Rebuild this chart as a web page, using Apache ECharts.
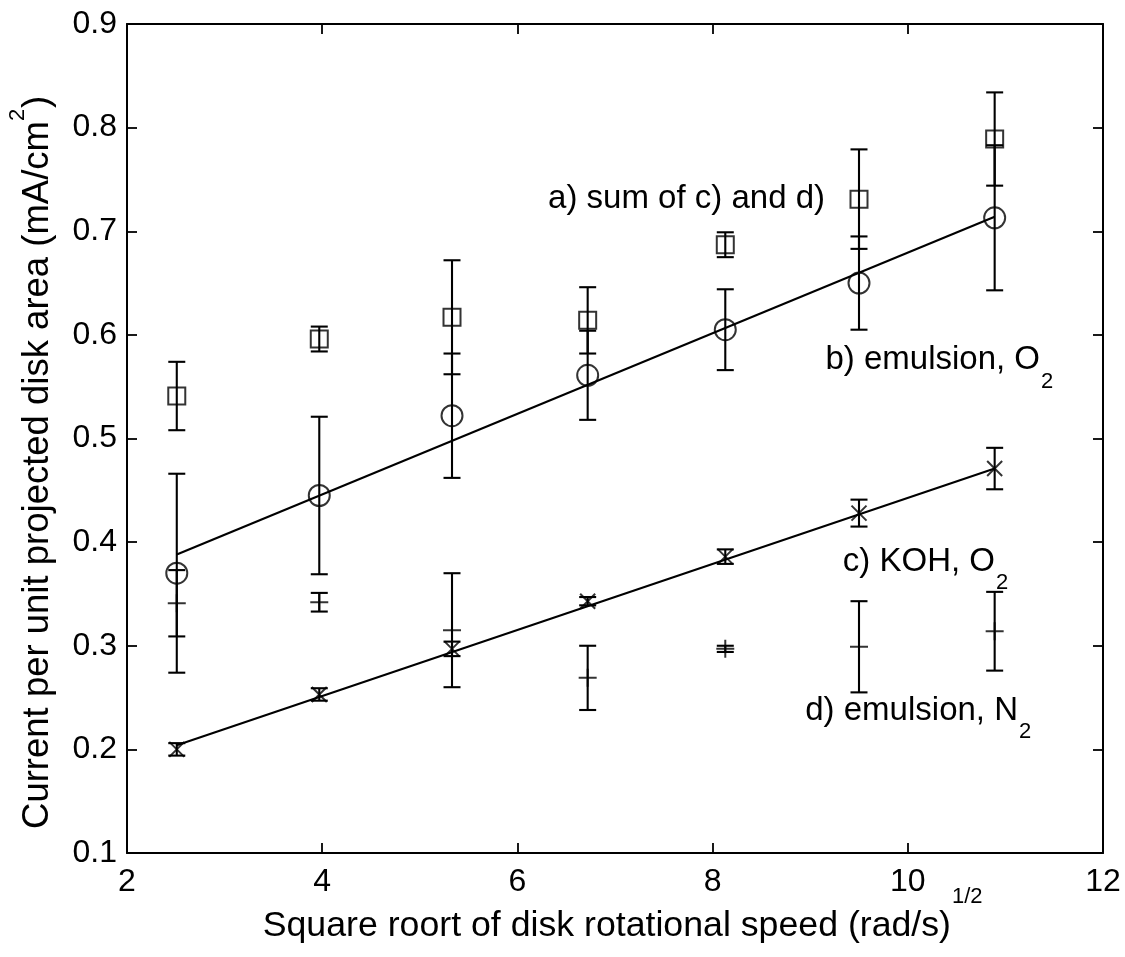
<!DOCTYPE html>
<html>
<head>
<meta charset="utf-8">
<title>Disk current vs rotational speed</title>
<script src="https://cdn.jsdelivr.net/npm/echarts@6/dist/echarts.min.js"></script>
<style>
  html, body { margin: 0; padding: 0; background: #fff; }
  #chart { width: 1125px; height: 957px; }
</style>
</head>
<body>
<div id="chart"></div>
<script>
// square root of disk rotational speed, (rad/s)^1/2
const speed = [2.51, 3.97, 5.33, 6.72, 8.13, 9.50, 10.89];

// a) sum of c) and d)
const sumCD = [0.541, 0.596, 0.617, 0.614, 0.687, 0.731, 0.789];
const sumCDErr = [0.033, 0.012, 0.055, 0.032, 0.012, 0.048, 0.045];
// b) emulsion, O2
const emulO2 = [0.370, 0.445, 0.522, 0.561, 0.605, 0.650, 0.713];
const emulO2Err = [0.096, 0.076, 0.060, 0.043, 0.039, 0.045, 0.070];
// c) KOH, O2
const kohO2 = [0.200, 0.253, 0.297, 0.343, 0.386, 0.428, 0.471];
const kohO2Err = [0.006, 0.006, 0.007, 0.004, 0.007, 0.013, 0.020];
// d) emulsion, N2
const emulN2 = [0.341, 0.342, 0.315, 0.269, 0.297, 0.299, 0.314];
const emulN2Err = [0.032, 0.009, 0.055, 0.031, 0.003, 0.044, 0.038];

// straight-line fits through b) and c)
const fitX = [2.51, 10.89];
const fitEmulO2 = [0.388, 0.714];
const fitKohO2 = [0.204, 0.471];

const FONT = '"Liberation Sans", Arial, Helvetica, sans-serif';
const LW = 2.1;

const chart = echarts.init(document.getElementById('chart'));

function errorBars(vals, errs) {
    return {
        type: 'custom',
        silent: true,
        z: 3,
        encode: { x: 0, y: [1, 2] },
        data: speed.map((x, i) => [x, vals[i] - errs[i], vals[i] + errs[i]]),
        renderItem: (params, api) => {
            const lo = api.coord([api.value(0), api.value(1)]);
            const hi = api.coord([api.value(0), api.value(2)]);
            const w = 8.5;
            const st = { stroke: '#000', lineWidth: LW };
            return {
                type: 'group',
                children: [
                    { type: 'line', shape: { x1: lo[0], y1: lo[1], x2: hi[0], y2: hi[1] }, style: st },
                    { type: 'line', shape: { x1: lo[0] - w, y1: lo[1], x2: lo[0] + w, y2: lo[1] }, style: st },
                    { type: 'line', shape: { x1: hi[0] - w, y1: hi[1], x2: hi[0] + w, y2: hi[1] }, style: st }
                ]
            };
        }
    };
}

function markers(vals, symbol, size) {
    return {
        type: 'scatter',
        silent: true,
        z: 4,
        symbol: symbol,
        symbolSize: size,
        itemStyle: { color: 'rgba(0,0,0,0)', borderColor: '#000', borderWidth: 2 },
        data: speed.map((x, i) => [x, vals[i]])
    };
}

function fitLine(vals) {
    return {
        type: 'line',
        silent: true,
        z: 2,
        symbol: 'none',
        lineStyle: { color: '#000', width: LW },
        data: fitX.map((x, i) => [x, vals[i]])
    };
}

function label(text, x, y, size, align, rotation) {
    return {
        type: 'text',
        x: x,
        y: y,
        rotation: rotation || 0,
        silent: true,
        style: {
            text: text,
            font: size + 'px ' + FONT,
            fill: '#000',
            textAlign: align,
            align: align,
            textVerticalAlign: 'middle',
            verticalAlign: 'middle'
        }
    };
}

const axisLine = { show: true, onZero: false, lineStyle: { color: '#000', width: 2 } };
const axisTick = { show: true, inside: true, length: 10, lineStyle: { color: '#000', width: 1.8 } };

const option = {
    backgroundColor: '#fff',
    animation: false,
    grid: { left: 127, right: 22, top: 24, bottom: 104 },
    xAxis: [
        {
            type: 'value', min: 2, max: 12, interval: 2,
            axisLine: axisLine, axisTick: axisTick, splitLine: { show: false },
            axisLabel: { color: '#000', fontSize: 32, fontFamily: FONT, margin: 13 }
        },
        {
            type: 'value', position: 'top', min: 2, max: 12, interval: 2,
            axisLine: axisLine, axisTick: axisTick, splitLine: { show: false },
            axisLabel: { show: false }
        }
    ],
    yAxis: [
        {
            type: 'value', min: 0.1, max: 0.9, interval: 0.1,
            axisLine: axisLine, axisTick: axisTick, splitLine: { show: false },
            axisLabel: {
                color: '#000', fontSize: 32, fontFamily: FONT, margin: 10,
                formatter: v => v.toFixed(1)
            }
        },
        {
            type: 'value', position: 'right', min: 0.1, max: 0.9, interval: 0.1,
            axisLine: axisLine, axisTick: axisTick, splitLine: { show: false },
            axisLabel: { show: false }
        }
    ],
    series: [
        fitLine(fitEmulO2),
        fitLine(fitKohO2),
        errorBars(sumCD, sumCDErr),
        errorBars(emulO2, emulO2Err),
        errorBars(kohO2, kohO2Err),
        errorBars(emulN2, emulN2Err),
        markers(sumCD, 'rect', 17),
        markers(emulO2, 'circle', 21),
        markers(kohO2, 'path://M0,0L10,10M10,0L0,10', 15),
        markers(emulN2, 'path://M5,0L5,10M0,5L10,5', 18)
    ],
    graphic: [
        label('a) sum of c) and d)', 825, 198.6, 33, 'right'),
        label('b) emulsion, O', 1040, 359.6, 33, 'right'),
        label('2', 1041, 382.4, 22, 'left'),
        label('c) KOH, O', 995, 561.6, 33, 'right'),
        label('2', 996, 583.4, 22, 'left'),
        label('d) emulsion, N', 1018, 710.6, 33, 'right'),
        label('2', 1019, 732.4, 22, 'left'),
        // x axis title
        label('Square roort of disk rotational speed (rad/s)', 951, 925.9, 35.7, 'right'),
        label('1/2', 952, 897, 22, 'left'),
        // y axis title (rotated)
        label('Current per unit projected disk area (mA/cm', 37.5, 121, 36.5, 'right', Math.PI / 2),
        label('2', 18.4, 121, 22, 'left', Math.PI / 2),
        label(')', 37.5, 108, 36.5, 'left', Math.PI / 2)
    ]
};

chart.setOption(option);
</script>
</body>
</html>
